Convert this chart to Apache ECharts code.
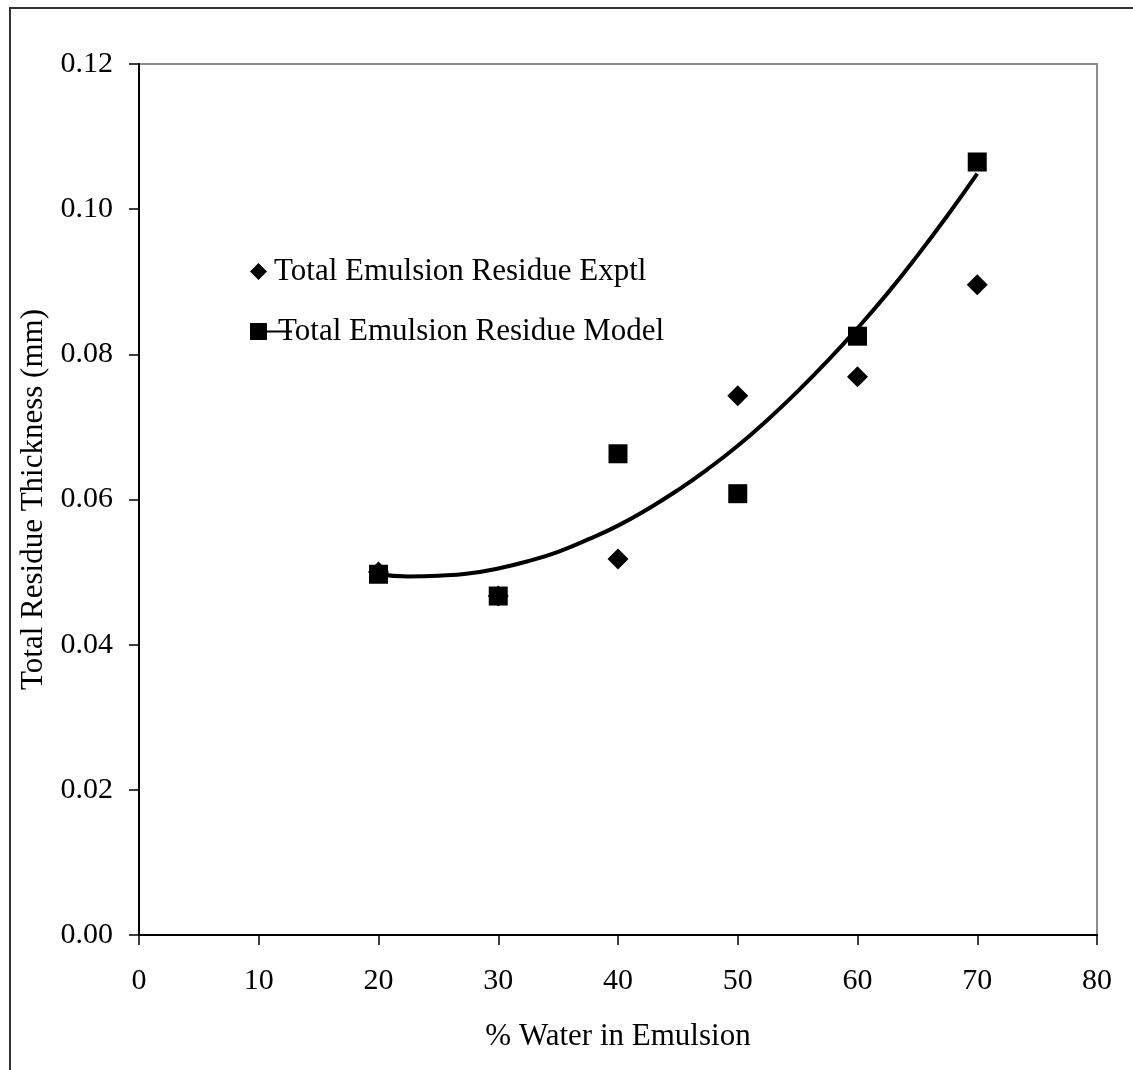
<!DOCTYPE html>
<html>
<head>
<meta charset="utf-8">
<script src="https://cdn.jsdelivr.net/npm/echarts@6/dist/echarts.min.js"></script>
<style>
html,body{margin:0;padding:0;background:#fff;}
#chart{width:1133px;height:1070px;}
</style>
</head>
<body>
<div id="chart"></div>
<script>
// Data
const waterPct = [20, 30, 40, 50, 60, 70];
const exptl = [0.0500, 0.0467, 0.0518, 0.0743, 0.0769, 0.0896];
const model = [0.0497, 0.0467, 0.0663, 0.0608, 0.0825, 0.1065];
// Polynomial trend line
const trendX = [20, 22.5, 25, 27.5, 30, 32.5, 35, 37.5, 40, 42.5, 45, 47.5, 50, 52.5, 55, 57.5, 60, 62.5, 65, 67.5, 70];
const trendY = [0.0497, 0.0494, 0.0495, 0.0498, 0.0505, 0.0515, 0.0528, 0.0545, 0.0564, 0.0587, 0.0613, 0.0642, 0.0674, 0.0710, 0.0749, 0.0791, 0.0836, 0.0884, 0.0936, 0.0991, 0.1049];
const yTicks = [0, 0.02, 0.04, 0.06, 0.08, 0.10, 0.12];
const xTicks = [0, 10, 20, 30, 40, 50, 60, 70, 80];

const FONT = '"Liberation Serif", "Times New Roman", serif';
const chart = echarts.init(document.getElementById('chart'));

const pairs = (xs, ys) => xs.map((x, i) => [x, ys[i]]);

chart.setOption({
  animation: false,
  backgroundColor: '#fff',
  textStyle: { fontFamily: FONT, color: '#000' },
  graphic: [{
    type: 'rect', silent: true, z: 0,
    shape: { x: 10, y: 8, width: 1140, height: 1080 },
    style: { fill: 'none', stroke: '#333', lineWidth: 2 }
  }],
  grid: {
    left: 139, top: 64, right: 36, bottom: 135,
    show: true, borderColor: '#8c8c8c', borderWidth: 2, backgroundColor: 'transparent'
  },
  legend: [{
    data: [{ name: 'Total Emulsion Residue Exptl', icon: 'diamond' }],
    left: 245, top: 251, itemWidth: 17, itemHeight: 17,
    textStyle: { fontFamily: FONT, fontSize: 31, color: '#000', padding: [0, 0, 0, 2] }
  }, {
    data: [{ name: 'Total Emulsion Residue Model', icon: 'path://M0,0H17V17H0Z M17,7.5H42V9.5H17Z' }],
    left: 245, top: 311, itemWidth: 42, itemHeight: 17,
    textStyle: { fontFamily: FONT, fontSize: 31, color: '#000', padding: [0, 0, 0, -19] }
  }],
  xAxis: {
    type: 'value', min: xTicks[0], max: xTicks[xTicks.length - 1], interval: 10,
    name: '% Water in Emulsion', nameLocation: 'middle', nameGap: 86,
    nameTextStyle: { fontFamily: FONT, fontSize: 31, color: '#000' },
    axisLine: { show: true, onZero: false, lineStyle: { color: '#000', width: 2 } },
    axisTick: { show: true, length: 10, lineStyle: { color: '#000', width: 1.5 } },
    axisLabel: { fontFamily: FONT, fontSize: 30, color: '#000', margin: 31 },
    splitLine: { show: false }
  },
  yAxis: {
    type: 'value', min: yTicks[0], max: yTicks[yTicks.length - 1], interval: 0.02,
    name: 'Total Residue Thickness (mm)', nameLocation: 'middle', nameGap: 87,
    nameTextStyle: { fontFamily: FONT, fontSize: 31, color: '#000' },
    axisLine: { show: true, onZero: false, lineStyle: { color: '#000', width: 2 } },
    axisTick: { show: true, length: 10, lineStyle: { color: '#000', width: 1.5 } },
    axisLabel: { fontFamily: FONT, fontSize: 30, color: '#000', margin: 26,
      formatter: v => v.toFixed(2) },
    splitLine: { show: false }
  },
  series: [{
    name: 'Poly. trend', type: 'line', smooth: true, showSymbol: false, z: 3,
    data: pairs(trendX, trendY),
    lineStyle: { color: '#000', width: 4 }
  }, {
    name: 'Total Emulsion Residue Exptl', type: 'scatter', symbol: 'diamond', symbolSize: 21, z: 4,
    data: pairs(waterPct, exptl), itemStyle: { color: '#000', opacity: 1 }
  }, {
    name: 'Total Emulsion Residue Model', type: 'scatter', symbol: 'rect', symbolSize: 19, z: 5,
    data: pairs(waterPct, model), itemStyle: { color: '#000', opacity: 1 }
  }]
});
</script>
</body>
</html>
